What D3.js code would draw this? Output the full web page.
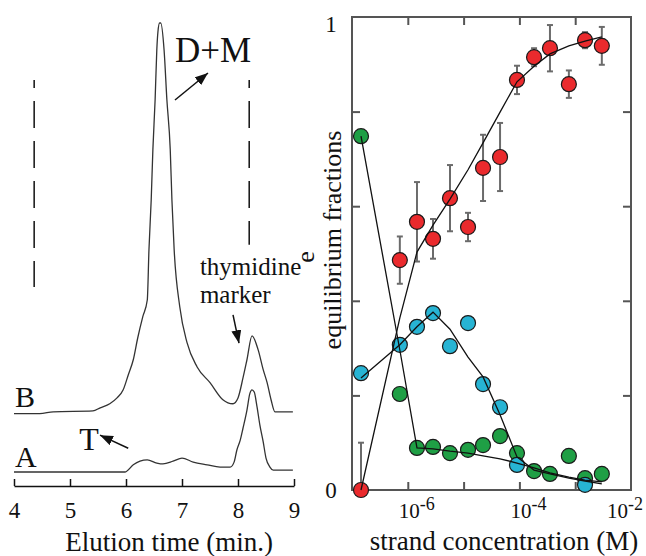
<!DOCTYPE html>
<html>
<head>
<meta charset="utf-8">
<script src="https://cdn.jsdelivr.net/npm/d3@7"></script>
<style>
  body { margin: 0; background: #fff; }
  svg text { font-family: "Liberation Serif", "Times New Roman", "DejaVu Serif", serif; fill: #111; }
</style>
</head>
<body>
<div id="chart"></div>
<script>
// ---- left panel: elution traces (min., relative absorbance) ----
const timeA = [4.0, 5.98, 6.13, 6.25, 6.38, 6.55, 6.66, 6.84, 7.0, 7.2, 7.45, 7.68, 7.86, 7.93, 7.98, 8.04,
  8.09, 8.16, 8.21, 8.25, 8.29, 8.34, 8.39, 8.45, 8.5, 8.57, 8.63, 8.98];
const signalA = [0, 0, 0.016, 0.024, 0.027, 0.020, 0.018, 0.024, 0.031, 0.022, 0.016, 0.011, 0.011, 0.022,
  0.049, 0.071, 0.098, 0.138, 0.174, 0.183, 0.178, 0.145, 0.105, 0.067, 0.031, 0.011, 0.004, 0.004];

const timeB = [4.0, 4.46, 4.7, 5.41, 5.54, 5.71, 5.84, 5.95, 6.04, 6.13, 6.21, 6.3, 6.38, 6.41, 6.45, 6.48,
  6.52, 6.55, 6.57, 6.6, 6.62, 6.68, 6.73, 6.79, 6.82, 6.86, 6.96, 7.09, 7.27, 7.5, 7.73, 7.91, 8.0, 8.09,
  8.16, 8.25, 8.36, 8.45, 8.52, 8.59, 8.66, 8.98];
const signalB = [-0.004, -0.004, 0, 0.002, 0.009, 0.018, 0.031, 0.049, 0.082, 0.116, 0.165, 0.212, 0.249,
  0.361, 0.472, 0.584, 0.695, 0.806, 0.846, 0.866, 0.866, 0.806, 0.695, 0.584, 0.472, 0.361, 0.234, 0.154,
  0.100, 0.065, 0.027, 0.018, 0.031, 0.076, 0.116, 0.169, 0.138, 0.094, 0.065, 0.027, 0, 0];
const offsetB = 0.134;
const elutionTicks = [4, 5, 6, 7, 8, 9];

// ---- right panel: fractions vs strand concentration (M) ----
const conc = [1.45e-7, 7.2e-7, 1.46e-6, 2.83e-6, 5.7e-6, 1.2e-5, 2.23e-5, 4.5e-5, 9.05e-5, 1.83e-4,
  3.53e-4, 7.7e-4, 1.5e-3, 3.0e-3];
const redFrac = [0, 0.486, 0.567, 0.531, 0.617, 0.556, 0.681, 0.704, 0.867, 0.915, 0.934, 0.858, 0.951, 0.939];
const redErr = [0.1, 0.05, 0.084, 0.042, 0.07, 0.03, 0.07, 0.072, 0.03, 0.019, 0.049, 0.029, 0.017, 0.04];
const greenFrac = [0.748, 0.203, 0.089, 0.091, 0.078, 0.085, 0.095, 0.114, 0.078, 0.040, 0.034, 0.072, 0.025, 0.034];
const cyanFrac = [0.247, 0.307, 0.345, 0.374, 0.304, 0.353, 0.224, 0.175, 0.053, null, null, null, 0.011, null];
const redFit = [0, 0.364, 0.503, 0.560, 0.615, 0.677, 0.734, 0.799, 0.863, 0.896, 0.922, 0.939, 0.949, 0.958];
const greenFit = [0.748, 0.296, 0.089, 0.087, 0.082, 0.078, 0.072, 0.066, 0.057, 0.047, 0.036, 0.027, 0.021, 0.017];
const cyanFit = [0.237, 0.307, 0.345, 0.376, 0.34, 0.281, 0.239, 0.159, 0.07, 0.042, 0.034, 0.025, 0.019, 0.013];
const concTicks = [1e-6, 1e-5, 1e-4, 1e-3];
const concLabelExp = [-6, -4, -2];
const fracTicks = [0.2, 0.4, 0.6, 0.8];

const width = 646, height = 556;
const svg = d3.select("#chart").append("svg")
  .attr("width", width)
  .attr("height", height);

const defs = svg.append("defs");
defs.append("marker")
  .attr("id", "head")
  .attr("markerUnits", "userSpaceOnUse")
  .attr("markerWidth", 14).attr("markerHeight", 10)
  .attr("refX", 13).attr("refY", 5)
  .attr("orient", "auto")
  .append("path")
  .attr("d", "M0,0L13,5L0,10z")
  .attr("fill", "#111");

// ================= left panel =================
const xL = d3.scaleLinear().domain([4, 9]).range([14, 294]);
const yL = d3.scaleLinear().domain([0, 1]).range([472, 23]);

const traceLine = d3.line().curve(d3.curveMonotoneX);

svg.append("path")
  .attr("d", traceLine(timeA.map((t, i) => [xL(t), yL(signalA[i])])))
  .attr("fill", "none").attr("stroke", "#333").attr("stroke-width", 1.3);
svg.append("path")
  .attr("d", traceLine(timeB.map((t, i) => [xL(t), yL(signalB[i] + offsetB)])))
  .attr("fill", "none").attr("stroke", "#333").attr("stroke-width", 1.3);

const axL = svg.append("g")
  .attr("transform", `translate(0,486)`)
  .call(d3.axisBottom(xL).tickValues(elutionTicks).tickFormat(d3.format("d"))
    .tickSizeInner(-7).tickSizeOuter(0).tickPadding(16));
axL.attr("font-family", null).attr("font-size", null);
axL.selectAll("path, line").attr("stroke", "#111").attr("stroke-width", 1.5);
axL.selectAll("text").style("font-size", "23px");

svg.append("text")
  .attr("x", xL(6.77)).attr("y", 551)
  .attr("text-anchor", "middle")
  .style("font-size", "27px")
  .text("Elution time (min.)");

// dashed markers
[[4.36, 0.873, 0.412], [8.2, 0.873, 0.506]].forEach(([t, v0, v1]) => {
  svg.append("line")
    .attr("x1", xL(t)).attr("x2", xL(t))
    .attr("y1", yL(v0)).attr("y2", yL(v1))
    .attr("stroke", "#111").attr("stroke-width", 1.5)
    .attr("stroke-dasharray", "27,13").attr("stroke-dashoffset", 19);
});

// annotations
const arrows = [
  [6.875, 0.8285, 7.464, 0.8886],   // D+M
  [7.911, 0.350, 8.018, 0.287],     // thymidine
  [6.04, 0.053, 5.536, 0.082]       // T
];
arrows.forEach(([t0, v0, t1, v1]) => {
  svg.append("line")
    .attr("x1", xL(t0)).attr("y1", yL(v0))
    .attr("x2", xL(t1)).attr("y2", yL(v1))
    .attr("stroke", "#111").attr("stroke-width", 1.5)
    .attr("marker-end", "url(#head)");
});

svg.append("text").attr("x", xL(6.875)).attr("y", yL(0.913)).style("font-size", "35px").text("D+M");
svg.append("text").attr("x", xL(7.32)).attr("y", yL(0.439)).style("font-size", "25px").text("thymidine");
svg.append("text").attr("x", xL(7.32)).attr("y", yL(0.376)).style("font-size", "25px").text("marker");
svg.append("text").attr("x", xL(4.02)).attr("y", yL(0.1448)).style("font-size", "30px").text("B");
svg.append("text").attr("x", xL(4.02)).attr("y", yL(0.011)).style("font-size", "30px").text("A");
svg.append("text").attr("x", xL(5.34)).attr("y", yL(0.049)).attr("text-anchor", "middle").style("font-size", "32px").text("T");

// ================= right panel =================
const xR = d3.scaleLog().domain([1e-7, 1e-2]).range([352, 631]);
const yR = d3.scaleLinear().domain([0, 1]).range([490, 17]);

function styleAxis(g) {
  g.attr("font-family", null).attr("font-size", null);
  g.select(".domain").remove();
  g.selectAll("line").attr("stroke", "#555").attr("stroke-width", 2);
}
svg.append("g").attr("transform", `translate(0,${yR(0)})`)
  .call(d3.axisBottom(xR).tickValues(concTicks).tickSizeInner(-8).tickFormat("")).call(styleAxis);
svg.append("g").attr("transform", `translate(0,${yR(1)})`)
  .call(d3.axisTop(xR).tickValues(concTicks).tickSizeInner(-8).tickFormat("")).call(styleAxis);
svg.append("g").attr("transform", `translate(${xR(1e-7)},0)`)
  .call(d3.axisLeft(yR).tickValues(fracTicks).tickSizeInner(-8).tickFormat("")).call(styleAxis);
svg.append("g").attr("transform", `translate(${xR(1e-2)},0)`)
  .call(d3.axisRight(yR).tickValues(fracTicks).tickSizeInner(-8).tickFormat("")).call(styleAxis);

svg.append("rect")
  .attr("x", xR(1e-7)).attr("y", yR(1))
  .attr("width", xR(1e-2) - xR(1e-7)).attr("height", yR(0) - yR(1))
  .attr("fill", "none").attr("stroke", "#555").attr("stroke-width", 2);

svg.append("text").attr("x", 331).attr("y", yR(0) + 8).attr("text-anchor", "middle")
  .style("font-size", "23px").text("0");
svg.append("text").attr("x", 331).attr("y", yR(1) + 15).attr("text-anchor", "middle")
  .style("font-size", "23px").text("1");

concLabelExp.forEach(e => {
  const t = svg.append("text").attr("y", 518).attr("text-anchor", "middle");
  t.append("tspan").style("font-size", "21px").text("10");
  t.append("tspan").attr("dy", -8).style("font-size", "18px").text(e);
  const w = t.node().getComputedTextLength();
  t.attr("x", Math.min(xR(Math.pow(10, e)) + 9, 643 - w / 2));
});

svg.append("text")
  .attr("x", 504).attr("y", 550)
  .attr("text-anchor", "middle")
  .style("font-size", "27px")
  .text("strand concentration (M)");

svg.append("text")
  .attr("transform", "translate(341,240) rotate(-90)")
  .attr("text-anchor", "middle")
  .style("font-size", "26px")
  .text("equilibrium fractions");
svg.append("text")
  .attr("transform", "translate(314,257) rotate(-90)")
  .attr("text-anchor", "middle")
  .style("font-size", "26px")
  .text("e");

// error bars
const eb = svg.append("g").attr("stroke", "#6b6b6b").attr("stroke-width", 2);
conc.forEach((c, i) => {
  const x = xR(c);
  const lo = yR(Math.max(0, redFrac[i] - redErr[i]));
  const hi = yR(redFrac[i] + redErr[i]);
  eb.append("line").attr("x1", x).attr("x2", x).attr("y1", lo).attr("y2", hi);
  eb.append("line").attr("x1", x - 3).attr("x2", x + 3).attr("y1", hi).attr("y2", hi);
  if (redFrac[i] - redErr[i] > 0)
    eb.append("line").attr("x1", x - 3).attr("x2", x + 3).attr("y1", lo).attr("y2", lo);
});

// points
const series = [
  { vals: greenFrac, color: "#1f9f45" },
  { vals: cyanFrac, color: "#27b4d4" },
  { vals: redFrac, color: "#ea2a2d" }
];
series.forEach(s => {
  svg.append("g").selectAll("circle")
    .data(conc.map((c, i) => [c, s.vals[i]]).filter(d => d[1] != null))
    .join("circle")
    .attr("cx", d => xR(d[0]))
    .attr("cy", d => yR(d[1]))
    .attr("r", 7.5)
    .attr("fill", s.color)
    .attr("stroke", "#1a1a1a")
    .attr("stroke-width", 1.2);
});

// fit lines
const fitLine = d3.line().x(d => xR(d[0])).y(d => yR(d[1]));
[redFit, greenFit, cyanFit].forEach(f => {
  svg.append("path")
    .attr("d", fitLine(conc.map((c, i) => [c, f[i]])))
    .attr("fill", "none")
    .attr("stroke", "#111")
    .attr("stroke-width", 1.3);
});
</script>
</body>
</html>
